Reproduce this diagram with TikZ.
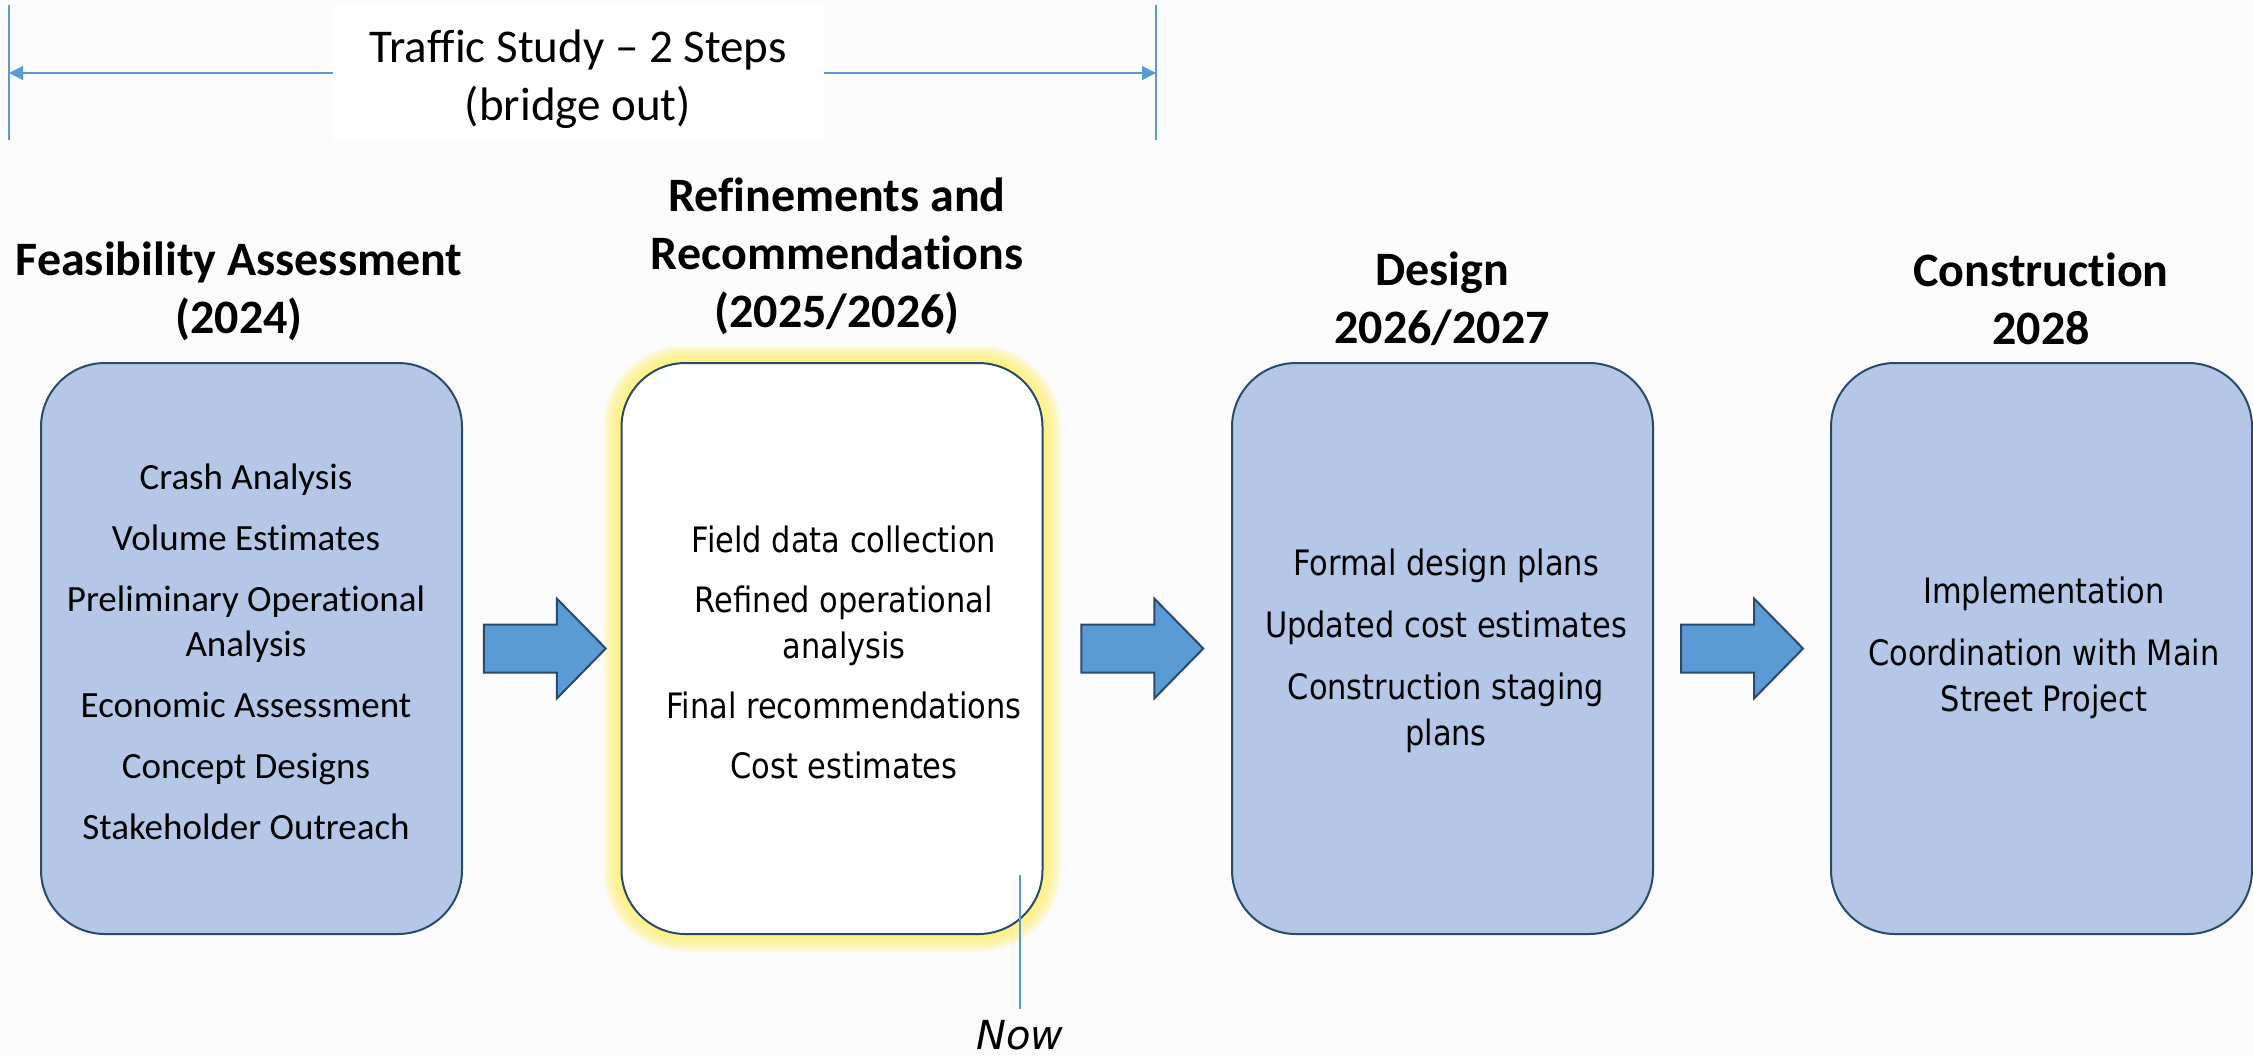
\documentclass[tikz,border=0pt]{standalone}
\usepackage{fontspec}
\setmainfont[Ligatures=NoCommon]{Carlito}
\newfontfamily\bodyfont[FakeStretch=0.87]{DejaVu Sans}
\newfontfamily\nowfont{DejaVu Sans}
\usetikzlibrary{calc,arrows.meta}

\definecolor{pagebg}{RGB}{252,252,252}
\definecolor{stagefill}{HTML}{B4C7E7}
\definecolor{stageline}{HTML}{2A4A6C}
\definecolor{arrowfill}{HTML}{5B9BD5}
\definecolor{guide}{HTML}{5B9BD5}
\definecolor{glowcol}{RGB}{255,242,110}

\tikzset{
  stage/.style={draw=stageline, line width=1pt, rounded corners=32pt,
    minimum width=210.5pt, minimum height=285.5pt, inner sep=0pt},
  heading/.style={align=center, inner sep=0pt,
    font=\bfseries\fontsize{24}{29}\selectfont},
  calibrilist/.style={align=center, inner sep=0pt,
    font=\fontsize{18.5}{22.5}\selectfont},
  tahomalist/.style={align=center, inner sep=0pt,
    font=\bodyfont\fontsize{17.5}{23}\selectfont},
  guideline/.style={draw=guide, line width=0.6pt},
  blockarrow/.pic={
    \filldraw[fill=arrowfill, draw=stageline, line width=1pt, line join=miter]
      (-61,-24) -- (12,-24) -- (12,-50) -- (61,0) -- (12,50) -- (12,24)
      -- (-61,24) -- cycle;
  }
}

\begin{document}
\begin{tikzpicture}[x=0.5pt, y=-0.5pt]
  % page
  \fill[pagebg] (0,0) rectangle (2253,1055);
  \useasboundingbox (0,0) rectangle (2253,1055);

  % span of the traffic study
  \coordinate (spanLtop) at (9,5);
  \coordinate (spanLbot) at (9,140);
  \coordinate (spanRtop) at (1156,5);
  \coordinate (spanRbot) at (1156,140);
  \coordinate (spanL) at (9,73);
  \coordinate (spanR) at (1156,73);
  \draw[guideline] (spanLtop) -- (spanLbot);
  \draw[guideline] (spanRtop) -- (spanRbot);
  \draw[guideline, {Triangle[length=7pt,width=7pt]}-{Triangle[length=7pt,width=7pt]}] (spanL) -- (spanR);
  \node[fill=white, minimum width=245.5pt, minimum height=67.5pt, inner sep=0pt] (span) at (578.5,72.5) {};
  \node[align=center, inner sep=0pt, font=\fontsize{23.5}{29}\selectfont] (spantext) at (578,79)
        {Traffic Study -- 2 Steps\\(bridge out)};

  % soft highlight round the current stage
  \foreach \w in {18,16.5,15,13.5,12,10.5,9,7.5,6,4.5,3}
    \draw[glowcol, line width=\w pt, opacity=0.13, rounded corners=32pt]
      (621,363) rectangle (1043,934);

  % stages
  \node[stage, fill=stagefill] (b1) at (251.5,648.5) {};
  \node[stage, fill=white]     (b2) at (832,648.5) {};
  \node[stage, fill=stagefill] (b3) at (1442.5,648.5) {};
  \node[stage, fill=stagefill] (b4) at (2041.5,648.5) {};

  % headings
  \node[heading] (h1) at (239,291)  {Feasibility Assessment\\(2024)};
  \node[heading] (h2) at (837,256)  {Refinements and\\Recommendations\\(2025/2026)};
  \node[heading] (h3) at (1442,299) {Design\\2026/2027};
  \node[heading] (h4) at (2041,299) {Construction\\2028};

  % stage contents
  \node[calibrilist] (t1) at (246,652) {Crash Analysis\\[8pt]Volume Estimates\\[8pt]Preliminary Operational\\Analysis\\[8pt]Economic Assessment\\[8pt]Concept Designs\\[8pt]Stakeholder Outreach};
  \node[tahomalist] (t2) at (844,652) {Field data collection\\[7pt]Refined operational\\analysis\\[7pt]Final recommendations\\[7pt]Cost estimates};
  \node[tahomalist] (t3) at (1446,651) {Formal design plans\\[8pt]Updated cost estimates\\[8pt]Construction staging\\plans};
  \node[tahomalist] (t4) at (2044,648) {Implementation\\[8pt]Coordination with Main\\Street Project};

  % flow arrows
  \pic at ($(b1.east)!0.5!(b2.west)+(3,0)$) {blockarrow};
  \pic at ($(b2.east)!0.5!(b3.west)+(5,0)$) {blockarrow};
  \pic at ($(b3.east)!0.5!(b4.west)$) {blockarrow};

  % current position marker
  \coordinate (nowtop) at (1020,875);
  \node[anchor=base, inner sep=0pt, font=\nowfont\itshape\fontsize{20}{24}\selectfont] (now) at (1020,1049) {Now};
  \draw[guideline, shorten >=5pt] (nowtop) -- (now.north);
\end{tikzpicture}
\end{document}
